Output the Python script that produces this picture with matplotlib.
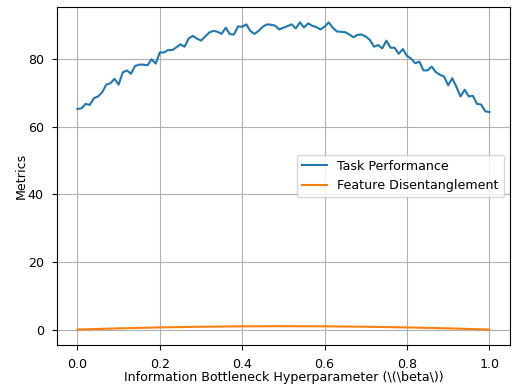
import numpy as np
import matplotlib
matplotlib.use("Agg")
import matplotlib.pyplot as plt

# task performance (101 points over beta in [0, 1])
task_performance = [
    65.2, 65.4, 66.7, 66.4, 68.4, 68.9, 70.1, 72.4, 72.8, 74.1,
    72.4, 76.0, 76.6, 75.6, 77.9, 78.3, 78.3, 78.1, 79.9, 78.6,
    81.9, 81.9, 82.6, 82.6, 83.4, 84.3, 83.6, 86.0, 86.8, 86.0,
    85.4, 86.6, 87.8, 88.3, 88.0, 87.4, 89.2, 87.3, 87.2, 89.6,
    89.5, 90.2, 88.2, 87.4, 88.3, 89.5, 90.2, 90.1, 89.8, 88.7,
    89.2, 89.7, 90.2, 89.0, 90.8, 89.3, 90.5, 89.8, 89.4, 88.7,
    89.5, 90.8, 89.2, 88.1, 88.0, 87.9, 87.2, 86.4, 87.1, 87.2,
    86.6, 85.6, 83.6, 84.1, 83.1, 85.4, 83.3, 83.3, 81.5, 82.9,
    80.9, 80.1, 78.7, 79.2, 76.6, 76.6, 77.7, 76.1, 75.3, 74.8,
    72.2, 74.3, 71.7, 68.9, 70.9, 68.9, 69.1, 66.7, 66.5, 64.5,
    64.3,
]
beta_task = np.linspace(0, 1, len(task_performance))

# feature disentanglement, small bump near zero
disentanglement = [0.0, 0.36, 0.64, 0.84, 0.96, 1.0, 0.96, 0.84, 0.64, 0.36, 0.0]
beta_dis = np.linspace(0, 1, len(disentanglement))

plt.rcParams['font.size'] = 9.1

fig = plt.figure(figsize=(5.12, 3.88), dpi=100)
ax = fig.add_axes([0.111, 0.111, 0.885, 0.871])

ax.plot(beta_task, task_performance, label='Task Performance')
ax.plot(beta_dis, disentanglement, label='Feature Disentanglement')

ax.set_xlabel('Information Bottleneck Hyperparameter (\\(\\beta\\))', labelpad=0)
ax.set_ylabel('Metrics', labelpad=0)
ax.tick_params(axis='both', pad=6)
ax.legend(loc='center right')
ax.grid(True)

plt.savefig('out.png', dpi=100)
